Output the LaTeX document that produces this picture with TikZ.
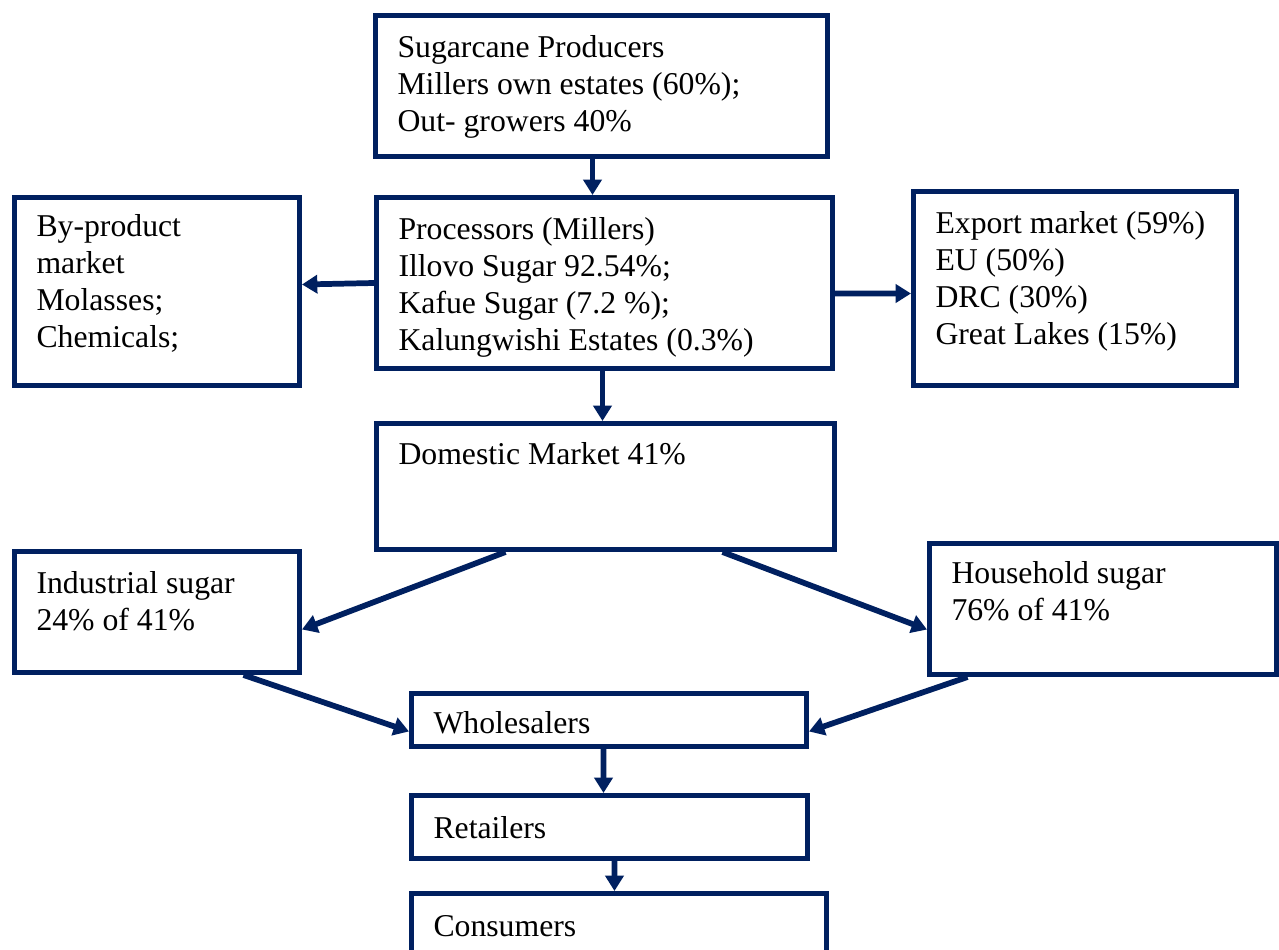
\documentclass[tikz,border=0pt]{standalone}
\usepackage{fontspec}
\setmainfont{Liberation Serif}
\usetikzlibrary{arrows.meta}
\definecolor{navy}{HTML}{002060}
\tikzset{
  box/.style={draw=navy, line width=3.75pt, inner sep=0pt, anchor=north west,
    font=\fontsize{23.8}{27.75}\selectfont, text=black},
  arr/.style={draw=navy, line width=4.3pt, -{Triangle[length=11.5pt,width=13.5pt]}}
}
% name, x1, y1, x2, y2, first-baseline offset, text
\newcommand\flowbox[7]{%
  \node[box] (#1) at (#2,#3)
    {\parbox[t][\dimexpr 0.75pt*(#5-#3)\relax][t]{\dimexpr 0.75pt*(#4-#2)\relax}%
      {\leftskip=16.5pt\relax\rule{0pt}{\dimexpr 0.75pt*#6\relax}#7}};%
}
\begin{document}
\begin{tikzpicture}[x=0.75pt,y=-0.75pt]
\useasboundingbox (0,0) rectangle (1279,950);
\clip (0,0) rectangle (1279,950);
\begin{scope}[shift={(-2,-1)}]
\flowbox{prod}{375}{14}{827}{155}{42}{Sugarcane Producers\\Millers own estates (60\%);\\Out- growers 40\%}
\flowbox{byp}{14}{196}{299}{384}{39}{By-product\\market\\Molasses;\\Chemicals;}
\flowbox{proc}{376}{196}{832}{367}{42}{Processors (Millers)\\Illovo Sugar 92.54\%;\\Kafue Sugar (7.2 \%);\\Kalungwishi Estates (0.3\%)}
\flowbox{exp}{913}{190}{1236}{384}{42}{Export market (59\%)\\EU (50\%)\\DRC (30\%)\\Great Lakes (15\%)}
\flowbox{dom}{376}{422}{834}{548}{41}{Domestic Market 41\%}
\flowbox{ind}{14}{550}{299}{671}{42}{Industrial sugar\\24\% of 41\%}
\flowbox{hh}{929}{542}{1276}{673}{40}{Household sugar\\76\% of 41\%}
\flowbox{whl}{411}{692}{806}{745}{40}{Wholesalers}
\flowbox{ret}{411}{794}{807}{857}{43}{Retailers}
\flowbox{con}{411}{892}{826}{990}{43}{Consumers}

\draw[arr] ([xshift=-6.75pt]prod.south) -- ([xshift=-9pt]proc.north);
\draw[arr] (proc.west) -- ([yshift=5.25pt]byp.east);
\draw[arr] ([yshift=-7.9pt]proc.east) -- ([yshift=-3.75pt]exp.west);
\draw[arr] ([xshift=-1.5pt]proc.south) -- ([xshift=-2.25pt]dom.north);
\draw[arr] ([xshift=-75pt]dom.south) -- ([yshift=-13.1pt]ind.east);
\draw[arr] ([xshift=87.75pt]dom.south) -- ([yshift=-15.4pt]hh.west);
\draw[arr] ([xshift=64.9pt]ind.south) -- ([yshift=-8.6pt]whl.west);
\draw[arr] ([xshift=-101.6pt]hh.south) -- ([yshift=-8.6pt]whl.east);
\draw[arr] ([xshift=-4.1pt]whl.south) -- ([xshift=-4.5pt]ret.north);
\draw[arr] ([xshift=3.75pt]ret.south) -- ([xshift=-3.4pt]con.north);
\end{scope}
\end{tikzpicture}
\end{document}
